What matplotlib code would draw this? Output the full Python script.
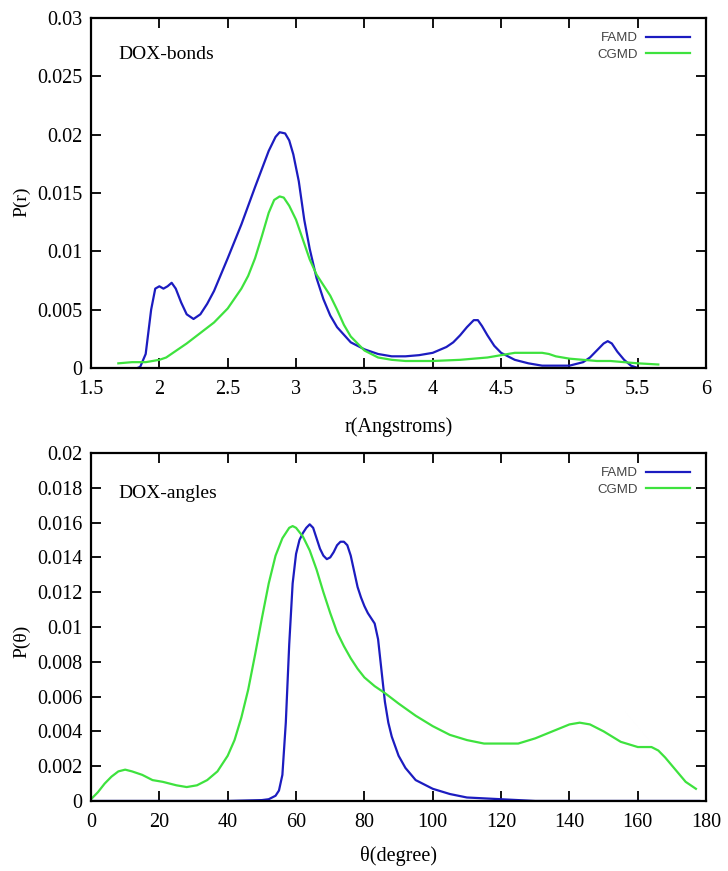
#!/usr/bin/python3
# -*- coding: utf-8 -*-

'''
DOX bond and angle distributions, FAMD vs CGMD
'''

import matplotlib
matplotlib.use('Agg')
import matplotlib.pyplot as plt

# bonds
r_famd = [1.84, 1.86, 1.9, 1.94, 1.97, 2.0, 2.03, 2.06, 2.09, 2.12, 2.16, 2.2, 2.25,
          2.3, 2.35, 2.4, 2.5, 2.6, 2.7, 2.8, 2.85, 2.88, 2.92, 2.95, 2.98, 3.02, 3.06,
          3.1, 3.15, 3.2, 3.25, 3.3, 3.4, 3.5, 3.6, 3.7, 3.8, 3.9, 4.0, 4.1, 4.15, 4.2,
          4.25, 4.3, 4.33, 4.36, 4.4, 4.45, 4.5, 4.6, 4.7, 4.8, 4.9, 5.0, 5.1, 5.15,
          5.2, 5.25, 5.28, 5.31, 5.35, 5.4, 5.45, 5.5]
p_famd = [0.0, 0.0001, 0.0012, 0.005, 0.0068, 0.007, 0.0068, 0.007, 0.0073, 0.0068,
          0.0056, 0.0046, 0.0042, 0.0046, 0.0055, 0.0066, 0.0094, 0.0123, 0.0155,
          0.0186, 0.0198, 0.0202, 0.0201, 0.0195, 0.0183, 0.016, 0.0127, 0.0102,
          0.0077, 0.0059, 0.0045, 0.0035, 0.0022, 0.0016, 0.0012, 0.001, 0.001,
          0.0011, 0.0013, 0.0018, 0.0022, 0.0028, 0.0035, 0.0041, 0.0041, 0.0036,
          0.0028, 0.0019, 0.0013, 0.0007, 0.0004, 0.0002, 0.0002, 0.0002, 0.0005,
          0.0009, 0.0015, 0.0021, 0.0023, 0.0021, 0.0014, 0.0007, 0.0002, 0.0]

r_cgmd = [1.7, 1.8, 1.9, 2.0, 2.05, 2.1, 2.2, 2.3, 2.4, 2.5, 2.6, 2.65, 2.7, 2.75, 2.8,
          2.84, 2.88, 2.91, 2.95, 3.0, 3.05, 3.1, 3.15, 3.2, 3.25, 3.3, 3.35, 3.4, 3.5,
          3.6, 3.7, 3.8, 4.0, 4.2, 4.4, 4.5, 4.6, 4.7, 4.8, 4.85, 4.9, 5.0, 5.1, 5.2,
          5.3, 5.4, 5.5, 5.65]
p_cgmd = [0.0004, 0.0005, 0.0005, 0.0007, 0.0009, 0.0013, 0.0021, 0.003, 0.0039,
          0.0051, 0.0068, 0.0079, 0.0094, 0.0113, 0.0133, 0.0144, 0.0147, 0.0146,
          0.0139, 0.0127, 0.011, 0.0093, 0.008, 0.0071, 0.0062, 0.005, 0.0037, 0.0027,
          0.0015, 0.0009, 0.0007, 0.0006, 0.0006, 0.0007, 0.0009, 0.0011, 0.0013,
          0.0013, 0.0013, 0.0012, 0.001, 0.0008, 0.0007, 0.0006, 0.0006, 0.0005,
          0.0004, 0.0003]

# angles
t_famd = [0, 20, 40, 50, 52, 54, 55, 56, 57, 58, 59, 60, 61, 62, 63, 64, 65, 66, 67,
          68, 69, 70, 71, 72, 73, 74, 75, 76, 77, 78, 79, 80, 81, 82, 83, 84, 85, 86,
          87, 88, 90, 92, 95, 98, 100, 105, 110, 120, 130, 150, 178]
q_famd = [0.0, 0.0, 0.0, 0.00005, 0.0001, 0.0003, 0.0006, 0.0015, 0.0045, 0.009,
          0.0125, 0.0142, 0.015, 0.0154, 0.0157, 0.0159, 0.0157, 0.0151, 0.0145,
          0.0141, 0.0139, 0.014, 0.0143, 0.0147, 0.0149, 0.0149, 0.0147, 0.0141,
          0.0132, 0.0123, 0.0117, 0.0112, 0.0108, 0.0105, 0.0102, 0.0093, 0.0075,
          0.0057, 0.0045, 0.0037, 0.0026, 0.0019, 0.0012, 0.0009, 0.0007, 0.0004,
          0.0002, 0.0001, 0.0, 0.0, 0.0]

t_cgmd = [0, 2, 4, 6, 8, 10, 12, 15, 18, 21, 25, 28, 31, 34, 37, 40, 42, 44, 46, 48,
          50, 52, 54, 56, 58, 59, 60, 62, 64, 66, 68, 70, 72, 74, 76, 78, 80, 83, 86,
          90, 95, 100, 105, 110, 115, 120, 125, 130, 135, 140, 143, 146, 150, 155,
          160, 164, 166, 168, 171, 174, 177]
q_cgmd = [0.0001, 0.0005, 0.001, 0.0014, 0.0017, 0.0018, 0.0017, 0.0015, 0.0012,
          0.0011, 0.0009, 0.0008, 0.0009, 0.0012, 0.0017, 0.0026, 0.0035, 0.0048,
          0.0064, 0.0084, 0.0105, 0.0125, 0.0141, 0.0151, 0.0157, 0.0158, 0.0157,
          0.0152, 0.0144, 0.0133, 0.012, 0.0108, 0.0097, 0.0089, 0.0082, 0.0076,
          0.0071, 0.0066, 0.0062, 0.0056, 0.0049, 0.0043, 0.0038, 0.0035, 0.0033,
          0.0033, 0.0033, 0.0036, 0.004, 0.0044, 0.0045, 0.0044, 0.004, 0.0034,
          0.0031, 0.0031, 0.0029, 0.0025, 0.0018, 0.0011, 0.0007]

BLUE = '#1c1cc0'
GREEN = '#3ee23e'
SERIF = ['Liberation Serif', 'DejaVu Serif']
SANS = ['Liberation Sans', 'DejaVu Sans']

plt.rcParams['font.family'] = SERIF


def style_axes(ax):
    '''gnuplot-like frame: inward ticks on all four sides'''
    for spine in ax.spines.values():
        spine.set_linewidth(1.6)
    ax.tick_params(direction='in', top=True, right=True, length=7, width=1.3,
                   labelsize=14.5)
    ax.tick_params(axis='x', pad=9)
    ax.tick_params(axis='y', pad=6)
    leg = ax.legend(loc='upper right', markerfirst=False, frameon=False,
                    prop={'family': SANS, 'size': 9.5}, handlelength=3.3,
                    handletextpad=0.6, labelspacing=0.35,
                    bbox_to_anchor=(0.982, 0.975), borderaxespad=0)
    for txt in leg.get_texts():
        txt.set_color('#444444')


fig = plt.figure(figsize=(7.28, 8.71), dpi=100)
ax1 = fig.add_axes([0.125, 0.5775, 0.845, 0.402])
ax2 = fig.add_axes([0.125, 0.0804, 0.845, 0.3995])

# top panel: bonds
ax1.plot(r_famd, p_famd, color=BLUE, lw=1.6, label='FAMD')
ax1.plot(r_cgmd, p_cgmd, color=GREEN, lw=1.6, label='CGMD')
ax1.set_xlim(1.5, 6)
ax1.set_ylim(0, 0.03)
ax1.set_xticks([1.5, 2, 2.5, 3, 3.5, 4, 4.5, 5, 5.5, 6])
ax1.set_xticklabels(['1.5', '2', '2.5', '3', '3.5', '4', '4.5', '5', '5.5', '6'])
ax1.set_yticks([0, 0.005, 0.01, 0.015, 0.02, 0.025, 0.03])
ax1.set_yticklabels(['0', '0.005', '0.01', '0.015', '0.02', '0.025', '0.03'])
ax1.set_xlabel('r(Angstroms)', fontsize=14.5, labelpad=13)
ax1.set_ylabel('P(r)', fontsize=14)
ax1.yaxis.set_label_coords(-0.098, 0.475)
ax1.text(0.045, 0.895, 'DOX-bonds', transform=ax1.transAxes, fontsize=14,
         va='center', ha='left')
style_axes(ax1)

# bottom panel: angles
ax2.plot(t_famd, q_famd, color=BLUE, lw=1.6, label='FAMD')
ax2.plot(t_cgmd, q_cgmd, color=GREEN, lw=1.6, label='CGMD')
ax2.set_xlim(0, 180)
ax2.set_ylim(0, 0.02)
ax2.set_xticks(range(0, 181, 20))
ax2.set_yticks([0, 0.002, 0.004, 0.006, 0.008, 0.01, 0.012, 0.014, 0.016, 0.018, 0.02])
ax2.set_yticklabels(['0', '0.002', '0.004', '0.006', '0.008', '0.01', '0.012',
                     '0.014', '0.016', '0.018', '0.02'])
ax2.set_xlabel('θ(degree)', fontsize=14.5, labelpad=10)
ax2.set_ylabel('P(θ)', fontsize=14)
ax2.yaxis.set_label_coords(-0.098, 0.46)
ax2.text(0.045, 0.885, 'DOX-angles', transform=ax2.transAxes, fontsize=14,
         va='center', ha='left')
style_axes(ax2)

fig.savefig('out.png', dpi=100, facecolor='white')
